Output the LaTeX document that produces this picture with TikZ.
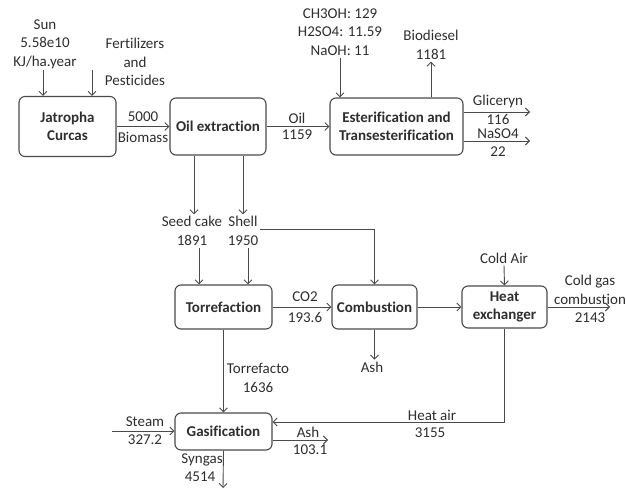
\documentclass[tikz,border=0pt]{standalone}
\usepackage{fontspec}
\setmainfont{Carlito}[Ligatures=NoCommon]
\usetikzlibrary{arrows.meta}

\definecolor{linegray}{HTML}{4A4A4A}
\definecolor{textgray}{HTML}{2E2E2E}

\begin{document}
\begin{tikzpicture}[x=1pt, y=-1pt,
  every node/.style={font=\fontsize{15}{18.5}\selectfont, text=textgray},
  unit/.style={draw=linegray, line width=1.1pt, rounded corners=6pt, align=center,
    inner sep=0pt, font=\fontsize{15}{18.5}\selectfont\bfseries},
  flow/.style={align=center, inner sep=2pt},
  pipe/.style={draw=linegray, line width=0.9pt, ->},
  >={Straight Barb[length=4pt,width=8pt]}]
  \useasboundingbox (0,0) rectangle (626,489);
  %
  % process units
  \node[unit, minimum width=97pt, minimum height=60pt] (jat) at (67.5,126.5) {Jatropha\\Curcas};
  \node[unit, minimum width=96pt, minimum height=57pt] (oil) at (218,126.5) {Oil extraction};
  \node[unit, minimum width=133pt, minimum height=57pt] (est) at (396.5,126.5) {Esterification and\\Transesterification};
  \node[unit, minimum width=97pt, minimum height=44pt] (tor) at (223.5,307) {Torrefaction};
  \node[unit, minimum width=85pt, minimum height=44pt] (com) at (374.5,307) {Combustion};
  \node[unit, minimum width=85pt, minimum height=42pt] (hex) at (504.5,307) {Heat\\exchanger};
  \node[unit, minimum width=97pt, minimum height=37pt] (gas) at (223.5,431.5) {Gasification};
  %
  % stream labels
  \node[flow] (sun) at (45,44) {Sun\\5.58e10\\KJ/ha.year};
  \node[flow] (fert) at (135,62) {Fertilizers\\and\\Pesticides};
  \node[flow] (bm1) at (143,117) {5000};
  \node[flow] (bm2) at (143,137) {Biomass};
  \node[flow] (oil1) at (297,118) {Oil};
  \node[flow] (oil2) at (297,135) {1159};
  \node[flow] (chem) at (340,32) {CH3OH: 129\\H2SO4: 11.59\\NaOH: 11};
  \node[flow] (bio) at (431,45) {Biodiesel\\1181};
  \node[flow] (gly1) at (498,102) {Gliceryn};
  \node[flow] (gly2) at (498,119) {116};
  \node[flow] (naso1) at (498,134) {NaSO4};
  \node[flow] (naso2) at (498,152) {22};
  \node[flow] (seed) at (192,231) {Seed cake\\1891};
  \node[flow] (shell) at (243,231) {Shell\\1950};
  \node[flow] (co1) at (305,297) {CO2};
  \node[flow] (co2) at (305,317) {193.6};
  \node[flow] (ash1) at (372,367) {Ash};
  \node[flow] (cold) at (504,258) {Cold Air};
  \node[flow] (cgc) at (590,299) {Cold gas\\combustion\\2143};
  \node[flow] (tf1) at (258,368) {Torrefacto};
  \node[flow] (tf2) at (258,387) {1636};
  \node[flow] (ha1) at (432,415) {Heat air};
  \node[flow] (ha2) at (430,433) {3155};
  \node[flow] (st1) at (145,422) {Steam};
  \node[flow] (st2) at (145,440) {327.2};
  \node[flow] (ash2) at (308,432) {Ash};
  \node[flow] (ash3) at (310,450) {103.1};
  \node[flow] (syn1) at (202,460) {Syngas};
  \node[flow] (syn2) at (200,477) {4514};
  %
  % free ends
  \coordinate (sun in) at (43,70);
  \coordinate (fert in) at (92,70);
  \coordinate (gly end) at (530,112);
  \coordinate (naso end) at (530,141);
  \coordinate (cg end) at (610,307);
  \coordinate (steam in) at (112,431);
  \coordinate (ash end) at (328,440);
  \coordinate (syn end) at (223,488);
  %
  \draw[pipe] (sun in) -- (sun in |- jat.north);
  \draw[pipe] (fert in) -- (fert in |- jat.north);
  \draw[pipe] (jat.east) -- (oil.west);
  \draw[pipe] (oil.east) -- (est.west);
  \draw[pipe] (chem.south) -- (chem.south |- est.north);
  \draw[pipe] (est.north -| bio.south) -- (bio.south);
  \draw[pipe] (gly end -| est.east) -- (gly end);
  \draw[pipe] (naso end -| est.east) -- (naso end);
  %
  \draw[pipe] ([xshift=2pt]oil.south -| seed.north) -- ([xshift=2pt]seed.north);
  \draw[pipe] (oil.south -| shell.north) -- (shell.north);
  \draw[pipe] ([xshift=7pt]seed.south) -- ([xshift=7pt]seed.south |- tor.north);
  \draw[pipe] ([xshift=5pt]shell.south) -- ([xshift=5pt]shell.south |- tor.north);
  \draw[pipe] ([yshift=2pt]shell.east) -| (com.north);
  \draw[pipe] (tor.east) -- (com.west);
  \draw[pipe] (com.east) -- (hex.west);
  \draw[pipe] (com.south) -- (com.south |- ash1.north);
  \draw[pipe] (cold.south) -- (hex.north);
  \draw[pipe] (hex.east) -- (cg end);
  \draw[pipe] (hex.south) |- ([yshift=9.5pt]gas.east);
  %
  \draw[pipe] (tor.south) -- (gas.north);
  \draw[pipe] (steam in) -- (steam in -| gas.west);
  \draw[pipe] (ash end -| gas.east) -- (ash end);
  \draw[pipe] (gas.south) -- (syn end);
\end{tikzpicture}
\end{document}
